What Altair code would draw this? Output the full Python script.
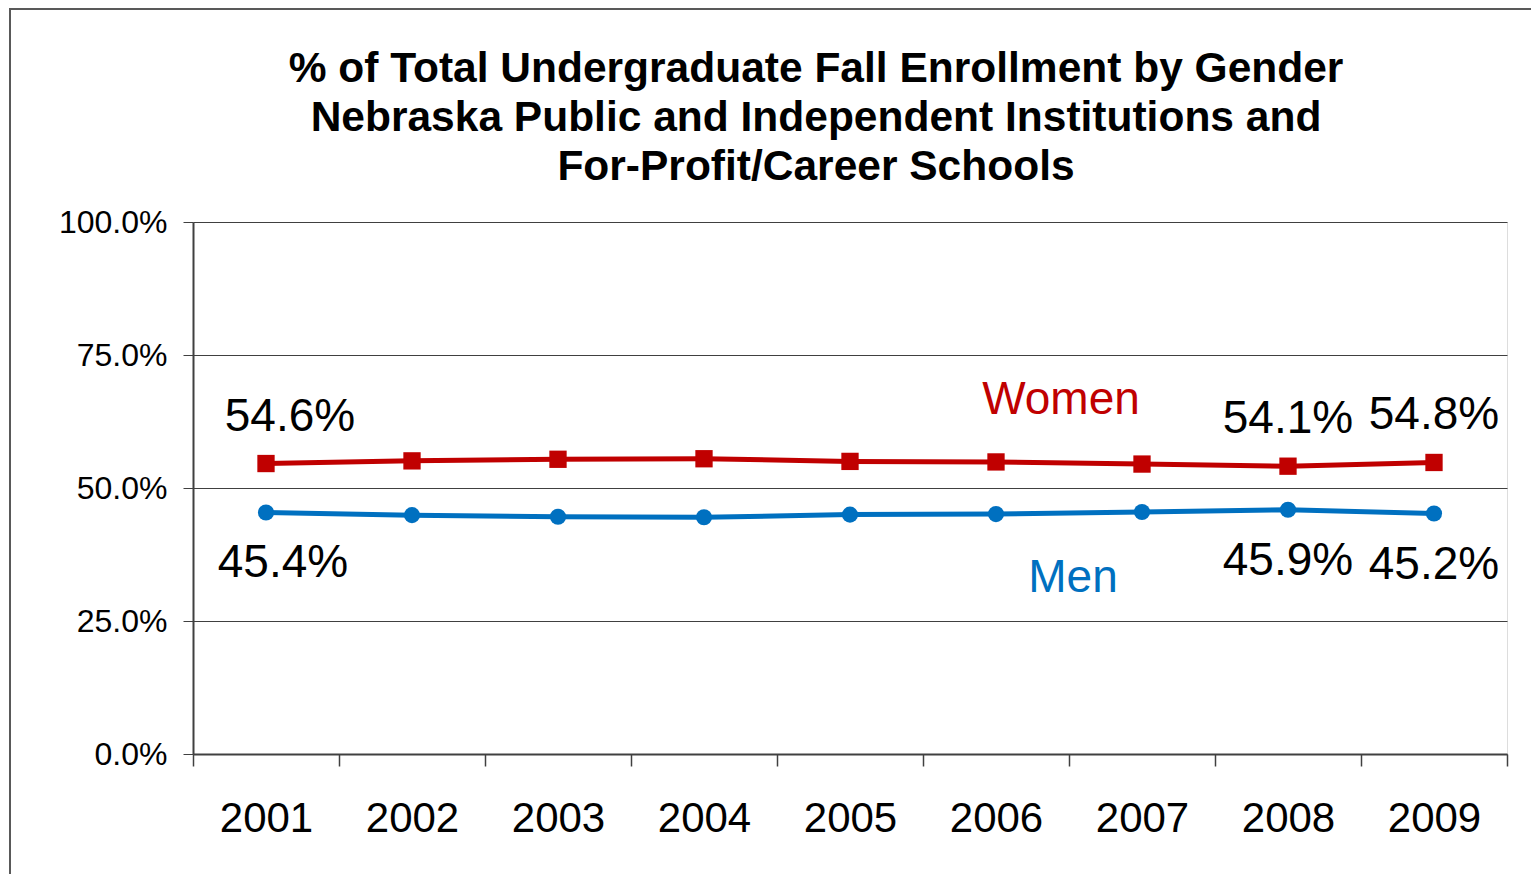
import altair as alt
import pandas as pd

years = ["2001", "2002", "2003", "2004", "2005", "2006", "2007", "2008", "2009"]
women = [0.546, 0.551, 0.554, 0.555, 0.550, 0.549, 0.545, 0.541, 0.548]
men = [0.454, 0.449, 0.446, 0.445, 0.450, 0.451, 0.455, 0.459, 0.452]
labeled_years = ["2001", "2008", "2009"]
title_lines = ["% of Total Undergraduate Fall Enrollment by Gender",
               "Nebraska Public and Independent Institutions and",
               "For-Profit/Career Schools"]

RED = "#C00000"
BLUE = "#0070C0"
FONT = "Liberation Sans"

df = pd.DataFrame({
    "year": years * 2,
    "value": women + men,
    "series": ["Women"] * len(years) + ["Men"] * len(years),
})

x = alt.X("year:N", sort=years, title=None,
          scale=alt.Scale(paddingInner=0, paddingOuter=0),
          axis=alt.Axis(labelFontSize=42, labelFont=FONT, labelColor="black",
                        labelAngle=0, tickBand="extent", tickSize=12,
                        tickColor="#404040", tickWidth=1.5, domainColor="#404040",
                        domainWidth=2, labelPadding=32, grid=False))
y = alt.Y("value:Q", title=None,
          scale=alt.Scale(domain=[0, 1]),
          axis=alt.Axis(values=[0, 0.25, 0.5, 0.75, 1.0], format=".1%",
                        labelFontSize=32, labelFont=FONT, labelColor="black",
                        tickSize=10, tickColor="#404040", domainColor="#404040",
                        domainWidth=2, labelPadding=16, gridColor="#404040",
                        gridWidth=1.2))

base = alt.Chart(df)

color = alt.Color("series:N", scale=alt.Scale(domain=["Women", "Men"], range=[RED, BLUE]),
                  legend=None)

lines = base.mark_line(strokeWidth=5).encode(x=x, y=y, color=color)

w_pts = base.transform_filter(alt.datum.series == "Women").mark_point(
    shape="square", size=300, filled=True, opacity=1, color=RED).encode(x=x, y=y)
m_pts = base.transform_filter(alt.datum.series == "Men").mark_point(
    shape="circle", size=260, filled=True, opacity=1, color=BLUE).encode(x=x, y=y)

lab = base.transform_filter(alt.FieldOneOfPredicate(field="year", oneOf=labeled_years))
w_first = lab.transform_filter((alt.datum.series == "Women") & (alt.datum.year == "2001"))
w_rest = lab.transform_filter((alt.datum.series == "Women") & (alt.datum.year != "2001"))
m_first = lab.transform_filter((alt.datum.series == "Men") & (alt.datum.year == "2001"))
m_rest = lab.transform_filter((alt.datum.series == "Men") & (alt.datum.year != "2001"))

tx = dict(fontSize=46, font=FONT, color="black", baseline="middle", align="center")
t_enc = dict(x=x, y=y, text=alt.Text("value:Q", format=".1%"))
t1 = w_first.mark_text(dy=-47, dx=24, **tx).encode(**t_enc)
t2 = w_rest.mark_text(dy=-47, **tx).encode(**t_enc)
t3 = m_first.mark_text(dy=51, dx=17, **tx).encode(**t_enc)
t4 = m_rest.mark_text(dy=51, **tx).encode(**t_enc)

series_names = pd.DataFrame({"series": ["Women", "Men"], "year": ["2007", "2007"],
                             "value": [women[6], men[6]]})
sl = alt.Chart(series_names)
women_lbl = sl.transform_filter(alt.datum.series == "Women").mark_text(
    fontSize=46, font=FONT, color=RED, baseline="middle", align="center",
    dx=-81, dy=-64).encode(x=x, y=y, text="series:N")
men_lbl = sl.transform_filter(alt.datum.series == "Men").mark_text(
    fontSize=46, font=FONT, color=BLUE, baseline="middle", align="center",
    dx=-69, dy=66).encode(x=x, y=y, text="series:N")

one = pd.DataFrame({"k": [0]})
frame = alt.Chart(one).mark_rect(
    fill=None, stroke="#595959", strokeWidth=2, clip=False).encode(
    x=alt.value(-183), x2=alt.value(1500), y=alt.value(-213), y2=alt.value(800))

title = alt.Chart(one).mark_text(
    text=title_lines, fontSize=42.5, font=FONT, fontWeight="bold", color="black",
    align="center", baseline="middle", lineHeight=49).encode(
    x=alt.value(623), y=alt.value(-153))

chart = alt.layer(frame, title, lines, w_pts, m_pts, t1, t2, t3, t4, women_lbl, men_lbl).properties(
    width=1314, height=532,
    autosize=alt.AutoSizeParams(type="none"),
    padding={"left": 185, "top": 214, "right": 24, "bottom": 120},
).configure_view(stroke="#868686", strokeWidth=2).configure(background="white")

chart.save("out.html", embed_options={"renderer": "svg", "actions": False})
